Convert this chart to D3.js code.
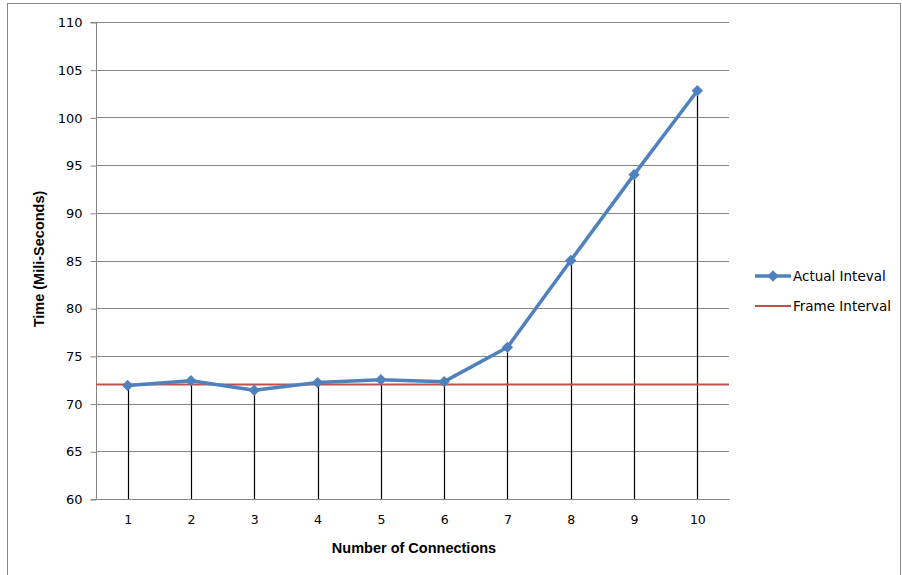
<!DOCTYPE html>
<html>
<head>
<meta charset="utf-8">
<script src="https://cdn.jsdelivr.net/npm/d3@7/dist/d3.min.js"></script>
<style>
  html, body { margin: 0; padding: 0; background: #fff; }
  svg { display: block; }
</style>
</head>
<body>
<svg id="chart" width="902" height="575"></svg>
<script>
// Connection counts on the x axis
const connections = ["1", "2", "3", "4", "5", "6", "7", "8", "9", "10"];
// Measured interval per connection count (ms)
const actualInterval = [71.9, 72.4, 71.4, 72.2, 72.5, 72.3, 75.9, 85.0, 94.0, 102.8];
// Target frame interval (ms)
const frameInterval = 72;
// Y tick values
const yTicks = [60, 65, 70, 75, 80, 85, 90, 95, 100, 105, 110];
const seriesNames = ["Actual Inteval", "Frame Interval"];

const svg = d3.select("#chart");
const blue = "#4F81BD", red = "#C0504D", grid = "#868686";
const tickFont = "'DejaVu Sans', Verdana, sans-serif";
const titleFont = "'Liberation Sans Narrow', 'Arial Narrow', 'Liberation Sans', sans-serif";

// outer frame
svg.append("rect").attr("x", 7.5).attr("y", 3.5).attr("width", 893).attr("height", 590)
  .attr("fill", "none").attr("stroke", "#8a8a8a").attr("stroke-width", 1);

const plot = { left: 96, right: 729, top: 22, bottom: 499 };

const x = d3.scaleBand().domain(connections).range([plot.left, plot.right]);
const y = d3.scaleLinear().domain([60, 110]).range([plot.bottom, plot.top]);
const cx = d => x(d) + x.bandwidth() / 2;

// horizontal gridlines
svg.append("g").selectAll("line").data(yTicks.filter(t => t > 60)).join("line")
  .attr("x1", plot.left).attr("x2", plot.right)
  .attr("y1", d => Math.round(y(d)) + 0.5).attr("y2", d => Math.round(y(d)) + 0.5)
  .attr("stroke", grid).attr("stroke-width", 1);

// y axis
const yAxis = d3.axisLeft(y).tickValues(yTicks).tickSize(6).tickPadding(8).tickFormat(d3.format("d"));
const gy = svg.append("g").attr("transform", `translate(${plot.left + 0.5},0.5)`).call(yAxis);
gy.select(".domain").attr("stroke", grid).attr("d", `M-6,${y(60)}H0V${y(110)}H-6`);
gy.selectAll(".tick line").attr("stroke", grid);
gy.selectAll(".tick text").attr("fill", "#000").style("font-family", tickFont).style("font-size", "13px");

// x axis (labels only, no tick marks)
const xAxis = d3.axisBottom(x).tickSize(0).tickPadding(16);
const gx = svg.append("g").attr("transform", `translate(0.5,${Math.round(plot.bottom) + 0.5})`).call(xAxis);
gx.select(".domain").attr("stroke", grid).attr("d", `M${plot.left},0H${plot.right}`);
gx.selectAll(".tick text").attr("fill", "#000").style("font-family", tickFont).style("font-size", "12.5px");

const pts = connections.map((c, i) => ({ c, v: actualInterval[i] }));

// drop lines from each point to the axis
svg.append("g").selectAll("line").data(pts).join("line")
  .attr("x1", d => Math.round(cx(d.c)) + 0.5).attr("x2", d => Math.round(cx(d.c)) + 0.5)
  .attr("y1", d => y(d.v)).attr("y2", y(60))
  .attr("stroke", "#000").attr("stroke-width", 1.2);

// frame interval reference line
svg.append("line")
  .attr("x1", plot.left).attr("x2", plot.right)
  .attr("y1", y(frameInterval)).attr("y2", y(frameInterval))
  .attr("stroke", red).attr("stroke-width", 2.2);

// actual interval line
const line = d3.line().x(d => cx(d.c)).y(d => y(d.v));
svg.append("path").datum(pts).attr("d", line)
  .attr("fill", "none").attr("stroke", blue).attr("stroke-width", 3.5)
  .attr("stroke-linejoin", "round");

// square markers turned 45° (diamonds)
const marker = d3.symbol().type(d3.symbolSquare).size(64);
svg.append("g").selectAll("path").data(pts).join("path")
  .attr("transform", d => `translate(${cx(d.c)},${y(d.v)}) rotate(45)`)
  .attr("d", marker).attr("fill", blue);

// axis titles
svg.append("text").attr("x", 414).attr("y", 553).attr("text-anchor", "middle")
  .style("font-family", titleFont).style("font-weight", "bold").style("font-size", "14.5px")
  .text("Number of Connections");
svg.append("text").attr("transform", "translate(44,259) rotate(-90)").attr("text-anchor", "middle")
  .style("font-family", titleFont).style("font-weight", "bold").style("font-size", "14.5px")
  .text("Time (Mili-Seconds)");

// legend
const legend = svg.append("g");
const ly = [276, 306];
legend.append("line").attr("x1", 755).attr("x2", 791).attr("y1", ly[0]).attr("y2", ly[0])
  .attr("stroke", blue).attr("stroke-width", 3.5);
legend.append("path").attr("transform", `translate(773,${ly[0]}) rotate(45)`).attr("d", marker).attr("fill", blue);
legend.append("line").attr("x1", 755).attr("x2", 791).attr("y1", ly[1]).attr("y2", ly[1])
  .attr("stroke", red).attr("stroke-width", 2.2);
legend.selectAll("text").data(seriesNames).join("text")
  .attr("x", 793).attr("y", (d, i) => ly[i]).attr("dy", "0.35em")
  .style("font-family", tickFont).style("font-size", "13.5px").text(d => d);
</script>
</body>
</html>
